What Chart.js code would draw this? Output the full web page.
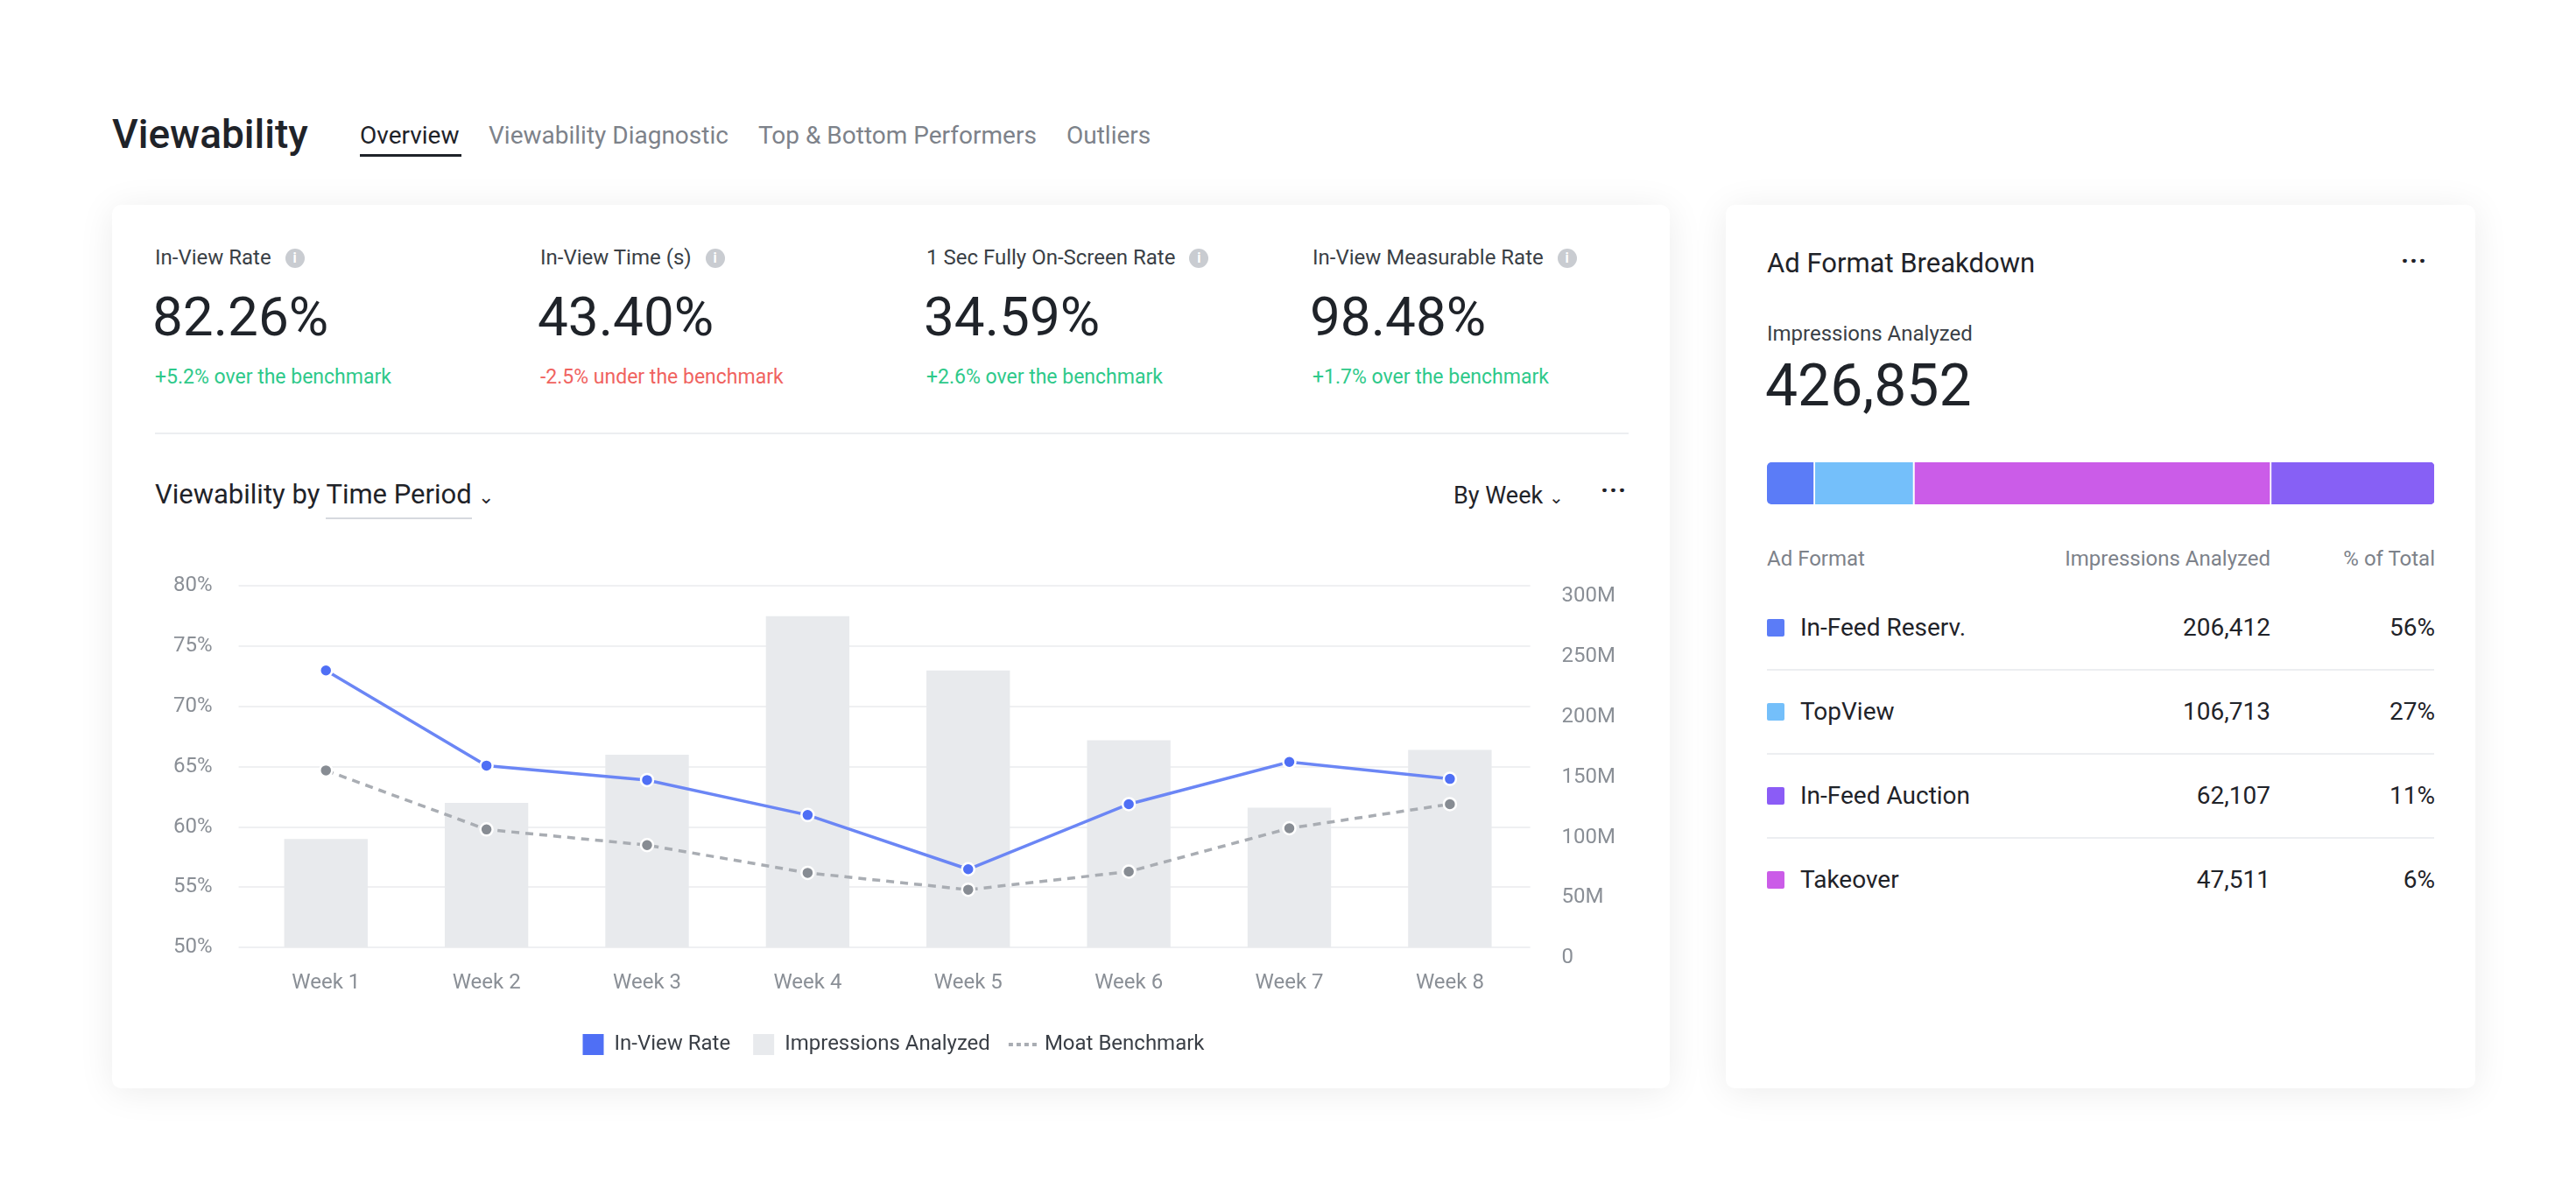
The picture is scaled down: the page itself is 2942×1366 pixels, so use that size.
<!DOCTYPE html>
<html>
<head>
<meta charset="utf-8">
<script src="https://cdn.jsdelivr.net/npm/chart.js@4"></script>
<style>
  body { margin:0; width:2942px; height:1366px; background:#fff; font-family:Roboto, "Noto Sans", sans-serif; color:#1f2329; position:relative; overflow:hidden; }
  .abs { position:absolute; white-space:nowrap; }
  .card { position:absolute; background:#fff; border-radius:10px; box-shadow:0 4px 40px rgba(0,0,0,0.08); }
  .tab { position:absolute; top:138px; font-size:28px; color:#7d828a; }
  .kl { font-size:24px; color:#3a3f46; }
  .kv { font-size:62px; color:#1f2329; }
  .ks { font-size:23px; }
  .info { display:inline-block; width:22px; height:22px; border-radius:50%; background:#c9ccd1; color:#fff; font-size:16px; text-align:center; line-height:22px; margin-left:16px; vertical-align:2px; font-weight:bold; }
  .th { font-size:24px; color:#7d828a; }
  .row { font-size:28px; color:#1f2329; }
  .sq { position:absolute; width:20px; height:20px; border-radius:2px; }
  .hr { position:absolute; height:2px; background:#eceef1; }
</style>
</head>
<body>
<div class="abs" style="left:128px;top:126px;font-size:46px;font-weight:500;">Viewability</div>
<div class="tab" style="left:411px;color:#1f2329;">Overview</div>
<div class="abs" style="left:411px;top:176px;width:116px;height:3px;background:#1f2329;"></div>
<div class="tab" style="left:558px;">Viewability Diagnostic</div>
<div class="tab" style="left:866px;">Top &amp; Bottom Performers</div>
<div class="tab" style="left:1218px;">Outliers</div>

<div class="card" style="left:128px;top:234px;width:1779px;height:1009px;"></div>
<div class="card" style="left:1971px;top:234px;width:856px;height:1009px;"></div>

<div id="kpis"></div>
<div class="hr" style="left:177px;top:494px;width:1683px;"></div>

<div class="abs" style="left:177px;top:546px;font-size:31px;">Viewability by <span style="border-bottom:2px solid #d6d9de;padding-bottom:8px;">Time Period</span> <span style="font-size:22px;">&#8964;</span></div>
<div class="abs" style="left:1660px;top:550px;font-size:27px;">By Week <span style="font-size:20px;">&#8964;</span></div>
<div class="abs" style="left:1828px;top:542px;font-size:30px;font-weight:bold;letter-spacing:1px;">···</div>

<div class="abs" style="left:168px;top:625px;width:1705px;height:590px;"><canvas id="chart"></canvas></div>

<div class="abs" style="left:2018px;top:282px;font-size:31px;">Ad Format Breakdown</div>
<div class="abs" style="left:2742px;top:280px;font-size:30px;font-weight:bold;letter-spacing:1px;">···</div>
<div class="abs" style="left:2018px;top:367px;font-size:24px;color:#3a3f46;">Impressions Analyzed</div>
<div class="abs" style="left:2016px;top:402px;font-size:66px;">426,852</div>
<div class="abs" style="left:2012px;top:520px;width:774px;height:64px;"><canvas id="stack"></canvas></div>
<div id="table"></div>

<script>
// datos del grafico
const semanas = ['Week 1', 'Week 2', 'Week 3', 'Week 4', 'Week 5', 'Week 6', 'Week 7', 'Week 8']
const tasaInView = [73.0, 65.1, 63.9, 61.0, 56.5, 61.9, 65.4, 64.0]
const benchmark = [64.7, 59.8, 58.5, 56.2, 54.8, 56.3, 59.9, 61.9]
const impresiones = [90, 120, 160, 275, 230, 172, 116, 164]

// kpis de arriba
const kpiNombres = ['In-View Rate', 'In-View Time (s)', '1 Sec Fully On-Screen Rate', 'In-View Measurable Rate']
const kpiValores = ['82.26%', '43.40%', '34.59%', '98.48%']
const kpiNotas = ['+5.2% over the benchmark', '-2.5% under the benchmark', '+2.6% over the benchmark', '+1.7% over the benchmark']

// desglose de formatos
const formatos = ['In-Feed Reserv.', 'TopView', 'In-Feed Auction', 'Takeover']
const formatoImpresiones = ['206,412', '106,713', '62,107', '47,511']
const formatoPorcentaje = ['56%', '27%', '11%', '6%']
const formatoColores = ['#5b7cf7', '#74bffa', '#8b5cf6', '#cb5ce8']
// anchos de la barra apilada tal como se ven
const barraOrden = ['In-Feed Reserv.', 'TopView', 'Takeover', 'In-Feed Auction']
const barraValores = [7.2, 14.9, 53.5, 24.4]
const barraColores = ['#5b7cf7', '#74bffa', '#cb5ce8', '#8760f5']

const kpiX = [177, 617, 1058, 1499]
let html = ''
kpiNombres.forEach((n, i) => {
    const color = kpiNotas[i].startsWith('-') ? '#f0635f' : '#2ec98a'
    html += `<div class="abs kl" style="left:${kpiX[i]}px;top:280px;">${n}<span class="info">i</span></div>`
    html += `<div class="abs kv" style="left:${kpiX[i] - 3}px;top:325px;">${kpiValores[i]}</div>`
    html += `<div class="abs ks" style="left:${kpiX[i]}px;top:417px;color:${color};">${kpiNotas[i]}</div>`
})
document.getElementById('kpis').innerHTML = html

let t = `<div class="abs th" style="left:2018px;top:624px;">Ad Format</div>
<div class="abs th" style="right:${2942 - 2593}px;top:624px;">Impressions Analyzed</div>
<div class="abs th" style="right:${2942 - 2781}px;top:624px;">% of Total</div>`
const filaY = [717, 813, 909, 1005]
formatos.forEach((f, i) => {
    const y = filaY[i]
    t += `<div class="sq" style="left:2018px;top:${y - 10}px;background:${formatoColores[i]};"></div>`
    t += `<div class="abs row" style="left:2056px;top:${y - 17}px;">${f}</div>`
    t += `<div class="abs row" style="right:${2942 - 2593}px;top:${y - 17}px;">${formatoImpresiones[i]}</div>`
    t += `<div class="abs row" style="right:${2942 - 2781}px;top:${y - 17}px;">${formatoPorcentaje[i]}</div>`
    if (i < 3) t += `<div class="hr" style="left:2018px;top:${y + 47}px;width:762px;"></div>`
})
document.getElementById('table').innerHTML = t

Chart.defaults.font.family = 'Roboto'

const lineaAzul = '#6b86f5'
new Chart(document.getElementById('chart'), {
    type: 'bar',
    data: {
        labels: semanas,
        datasets: [{
            type: 'line',
            label: 'In-View Rate',
            data: tasaInView,
            yAxisID: 'y',
            borderColor: lineaAzul,
            backgroundColor: '#4f6ff5',
            borderWidth: 3.5,
            pointRadius: 7,
            pointBorderColor: '#fff',
            pointBorderWidth: 2.5,
            order: 0
        }, {
            label: 'Impressions Analyzed',
            data: impresiones,
            yAxisID: 'y1',
            backgroundColor: '#e8eaed',
            categoryPercentage: 1,
            barPercentage: 0.52,
            order: 2
        }, {
            type: 'line',
            label: 'Moat Benchmark',
            data: benchmark,
            yAxisID: 'y',
            borderColor: '#a9adb3',
            backgroundColor: '#878c93',
            borderWidth: 3.5,
            borderDash: [9, 7],
            pointRadius: 7,
            pointBorderColor: '#fff',
            pointBorderWidth: 2.5,
            order: 1
        }]
    },
    options: {
        responsive: true,
        maintainAspectRatio: false,
        animation: false,
        layout: { padding: { top: 10 } },
        plugins: {
            tooltip: { enabled: false },
            legend: {
                position: 'bottom',
                labels: {
                    color: '#3a3f46',
                    font: { size: 24 },
                    padding: 26,
                    usePointStyle: true,
                    generateLabels: (chart) => chart.data.datasets.map((d, i) => ({
                        text: d.label,
                        datasetIndex: i,
                        fillStyle: i === 2 ? '#a9adb3' : (i === 0 ? '#4f6ff5' : '#e8eaed'),
                        strokeStyle: i === 2 ? '#a9adb3' : 'transparent',
                        lineWidth: i === 2 ? 4 : 0,
                        lineDash: i === 2 ? [5, 4] : [],
                        pointStyle: i === 2 ? 'line' : 'rect',
                        fontColor: '#3a3f46'
                    }))
                }
            }
        },
        scales: {
            x: {
                grid: { display: false },
                border: { display: false },
                ticks: { color: '#8a8f96', font: { size: 24 }, padding: 18 }
            },
            y: {
                position: 'left',
                min: 50, max: 80,
                grid: { color: '#eff0f2', lineWidth: 2 },
                border: { display: false },
                ticks: { stepSize: 5, color: '#8a8f96', font: { size: 24 }, padding: 30, callback: v => v + '%' }
            },
            y1: {
                position: 'right',
                min: 0, max: 300,
                grid: { display: false },
                border: { display: false },
                ticks: { stepSize: 50, color: '#8a8f96', font: { size: 24 }, padding: 28, align: 'start', callback: v => v === 0 ? '0' : v + 'M' }
            }
        }
    }
})

// barra apilada del formato
new Chart(document.getElementById('stack'), {
    type: 'bar',
    data: {
        labels: [''],
        datasets: barraOrden.map((n, i) => ({
            label: n,
            data: [barraValores[i]],
            backgroundColor: barraColores[i],
            borderColor: '#fff',
            borderWidth: { left: 0, top: 0, bottom: 0, right: i < 3 ? 2 : 0 },
            borderSkipped: false,
            borderRadius: i === 0 ? { topLeft: 5, bottomLeft: 5 } : (i === 3 ? { topRight: 5, bottomRight: 5 } : 0),
            categoryPercentage: 1,
            barPercentage: 1
        }))
    },
    options: {
        indexAxis: 'y',
        responsive: true,
        maintainAspectRatio: false,
        animation: false,
        layout: { padding: { left: 6, right: 6, top: 8, bottom: 8 } },
        plugins: { legend: { display: false }, tooltip: { enabled: false } },
        scales: {
            x: { stacked: true, display: false, min: 0, max: 100 },
            y: { stacked: true, display: false }
        }
    }
})
</script>
</body>
</html>
